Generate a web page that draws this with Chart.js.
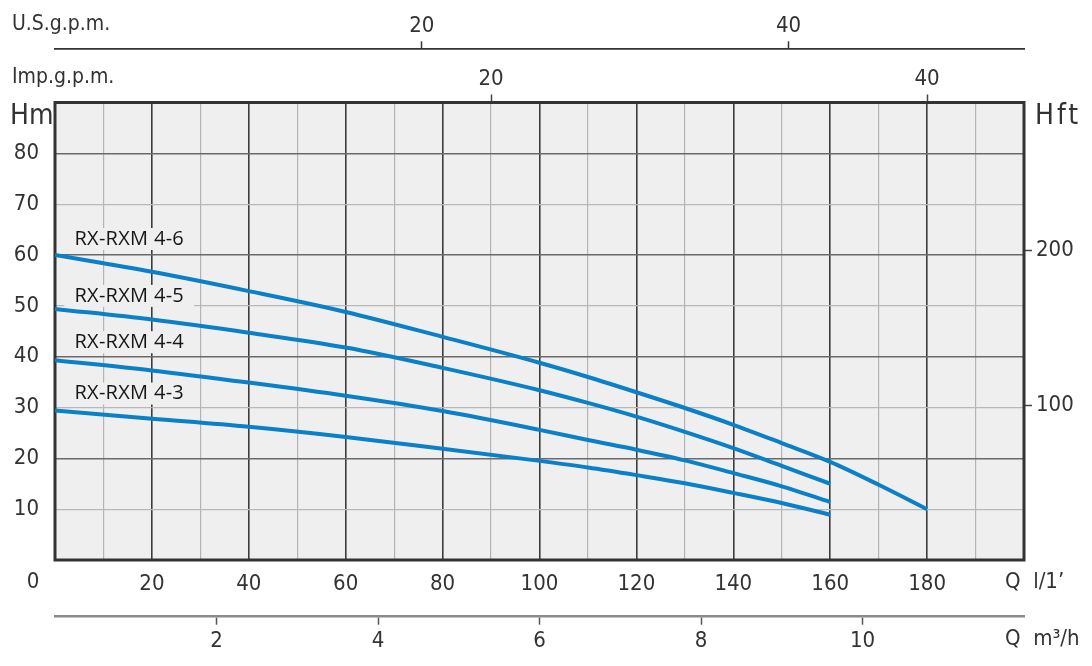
<!DOCTYPE html>
<html>
<head>
<meta charset="utf-8">
<script src="https://cdn.jsdelivr.net/npm/chart.js@4.4.1/dist/chart.umd.min.js"></script>
<style>
  html, body { margin: 0; padding: 0; background: #fff; }
  #chart { display: block; }
</style>
</head>
<body>
<canvas id="chart" width="1092" height="666"></canvas>
<script>
// curve data: Q in l/min, H in m
const FLOW = [0, 20, 40, 60, 80, 100, 110, 120, 130, 140, 150, 160];
const FLOW_46 = [0, 20, 40, 60, 80, 100, 110, 120, 130, 140, 150, 160, 170, 180];
const HEAD_46 = [60.0, 56.7, 52.9, 48.8, 43.9, 38.8, 36.0, 33.0, 29.9, 26.6, 23.0, 19.3, 14.8, 10.0];
const HEAD_45 = [49.4, 47.3, 44.7, 41.8, 37.8, 33.4, 30.9, 28.2, 25.2, 22.0, 18.5, 15.0];
const HEAD_44 = [39.3, 37.3, 34.9, 32.3, 29.3, 25.6, 23.6, 21.7, 19.6, 17.1, 14.5, 11.4];
const HEAD_43 = [29.4, 27.8, 26.2, 24.2, 21.9, 19.5, 18.2, 16.7, 15.1, 13.2, 11.2, 8.9];
const MODELS = ['RX-RXM 4-6', 'RX-RXM 4-5', 'RX-RXM 4-4', 'RX-RXM 4-3'];

// axis ticks
const LPM_TICKS = [20, 40, 60, 80, 100, 120, 140, 160, 180];
const HM_TICKS = [10, 20, 30, 40, 50, 60, 70, 80];
const HFT_TICKS = [100, 200];
const IMP_TICKS = [20, 40];
const US_TICKS = [20, 40];
const M3H_TICKS = [2, 4, 6, 8, 10];

const Q_MAX = 200;
const H_MAX = 90;

const FONT = "'DejaVu Sans Condensed', 'DejaVu Sans', sans-serif";
const BLUE = '#0a80c6';

function pts(xs, ys) {
  return xs.map((x, i) => ({ x: x, y: ys[i] }));
}

function fixedTicks(list) {
  return function(axis) {
    axis.ticks = list.map(v => ({ value: v }));
  };
}

Chart.defaults.font.family = FONT;
Chart.defaults.font.size = 22;
Chart.defaults.color = '#333';

const chartFrame = {
  id: 'chartFrame',
  beforeDraw(chart) {
    const a = chart.chartArea;
    const ctx = chart.ctx;
    ctx.save();
    ctx.fillStyle = '#efefef';
    ctx.fillRect(a.left, a.top, a.right - a.left, a.bottom - a.top);
    ctx.restore();
  },
  beforeDatasetsDraw(chart) {
    const a = chart.chartArea;
    const ctx = chart.ctx;
    const y = chart.scales.y;
    const x = chart.scales.x;
    ctx.save();
    ctx.strokeStyle = '#333';
    ctx.lineWidth = 3;
    ctx.strokeRect(a.left, a.top, a.right - a.left, a.bottom - a.top);

    // curve names, sitting above the start of each curve
    const offsets = [-16, -13, -18, -17];
    ctx.font = "500 20px 'Open Sans', 'Noto Sans', sans-serif";
    ctx.letterSpacing = '0.3px';
    ctx.textBaseline = 'middle';
    ctx.textAlign = 'left';
    chart.data.datasets.forEach((ds, i) => {
      const px = x.getPixelForValue(4);
      const py = y.getPixelForValue(ds.data[0].y) + offsets[i];
      const w = ctx.measureText(ds.label).width;
      ctx.fillStyle = '#efefef';
      ctx.fillRect(px - 10, py - 11, w + 20, 22);
      ctx.fillStyle = '#161616';
      ctx.fillText(ds.label, px, py);
    });
    ctx.restore();
  },
  afterDraw(chart) {
    const ctx = chart.ctx;
    ctx.save();
    ctx.fillStyle = '#333';
    ctx.textBaseline = 'middle';
    ctx.textAlign = 'left';
    ctx.font = '21px ' + FONT;
    ctx.fillText('U.S.g.p.m.', 12, 25);
    ctx.fillText('Imp.g.p.m.', 12, 78);
    ctx.font = '22px ' + FONT;
    ctx.fillText('Q  l/1\u2019', 1005, 582);
    ctx.fillText('Q  m\u00b3/h', 1005, 639);
    ctx.textAlign = 'center';
    ctx.fillText('0', 33, 582);
    ctx.textAlign = 'left';
    ctx.font = "28px 'Liberation Sans Narrow', " + FONT;
    ctx.fillText('Hm', 10, 117);
    ctx.letterSpacing = '3px';
    ctx.fillText('Hft', 1035, 117);
    ctx.restore();
  }
};

new Chart(document.getElementById('chart'), {
  type: 'line',
  data: {
    datasets: [
      { label: MODELS[0], data: pts(FLOW_46, HEAD_46) },
      { label: MODELS[1], data: pts(FLOW, HEAD_45) },
      { label: MODELS[2], data: pts(FLOW, HEAD_44) },
      { label: MODELS[3], data: pts(FLOW, HEAD_43) }
    ].map(ds => Object.assign(ds, {
      borderColor: BLUE,
      borderWidth: 4,
      pointRadius: 0,
      fill: false,
      cubicInterpolationMode: 'monotone',
      xAxisID: 'x',
      yAxisID: 'y'
    }))
  },
  options: {
    responsive: false,
    animation: false,
    devicePixelRatio: 1,
    layout: { padding: 0 },
    plugins: {
      legend: { display: false },
      tooltip: { enabled: false }
    },
    scales: {
      x: {
        type: 'linear',
        position: 'bottom',
        weight: 0,
        min: 0,
        max: Q_MAX,
        afterFit(s) { s.height = 56.7; },
        ticks: {
          stepSize: 10,
          autoSkip: false,
          maxRotation: 0,
          padding: 11,
          callback: v => LPM_TICKS.includes(v) ? String(v) : ''
        },
        grid: {
          drawTicks: false,
          color: c => c.tick.value % 20 === 0 ? '#3c3c3c' : '#b4b4b4',
          lineWidth: c => c.tick.value % 20 === 0 ? 1.6 : 1.2
        },
        border: { display: false }
      },
      xm3: {
        type: 'linear',
        position: 'bottom',
        weight: 1,
        min: 0,
        max: Q_MAX * 60 / 1000,
        afterFit(s) { s.height = 49.3; },
        afterBuildTicks: fixedTicks(M3H_TICKS),
        ticks: { autoSkip: false, maxRotation: 0, padding: 3 },
        grid: {
          drawOnChartArea: false,
          tickLength: 8,
          tickColor: '#555',
          tickWidth: 1.5
        },
        border: { display: true, color: '#8a8a8a', width: 2.5 }
      },
      ximp: {
        type: 'linear',
        position: 'top',
        weight: 0,
        min: 0,
        max: Q_MAX / 4.5,
        afterFit(s) { s.height = 53.2; },
        afterBuildTicks: fixedTicks(IMP_TICKS),
        ticks: { autoSkip: false, maxRotation: 0, padding: 2 },
        grid: {
          drawOnChartArea: false,
          tickLength: 8,
          tickColor: '#444',
          tickWidth: 1.5
        },
        border: { display: false }
      },
      xus: {
        type: 'linear',
        position: 'top',
        weight: 1,
        min: 0,
        max: Q_MAX / 3.785411784,
        afterFit(s) { s.height = 49.3; },
        afterBuildTicks: fixedTicks(US_TICKS),
        ticks: { autoSkip: false, maxRotation: 0, padding: 2 },
        grid: {
          drawOnChartArea: false,
          tickLength: 8,
          tickColor: '#333',
          tickWidth: 1.5
        },
        border: { display: true, color: '#333', width: 1.8 }
      },
      y: {
        type: 'linear',
        position: 'left',
        min: 0,
        max: H_MAX,
        afterFit(s) { s.width = 55; },
        ticks: {
          stepSize: 10,
          autoSkip: false,
          padding: 16,
          callback: v => HM_TICKS.includes(v) ? String(v) : ''
        },
        grid: {
          drawTicks: false,
          color: c => c.tick.value % 20 === 0 ? '#6a6a6a' : '#b8b8b8',
          lineWidth: c => c.tick.value % 20 === 0 ? 1.6 : 1.2
        },
        border: { display: false }
      },
      yft: {
        type: 'linear',
        position: 'right',
        min: 0,
        max: H_MAX * 3.28084,
        afterFit(s) { s.width = 68; },
        afterBuildTicks: fixedTicks(HFT_TICKS),
        ticks: { autoSkip: false, padding: 4 },
        grid: {
          drawOnChartArea: false,
          tickLength: 8,
          tickColor: '#444',
          tickWidth: 1.5
        },
        border: { display: false }
      }
    }
  },
  plugins: [chartFrame]
});
</script>
</body>
</html>
